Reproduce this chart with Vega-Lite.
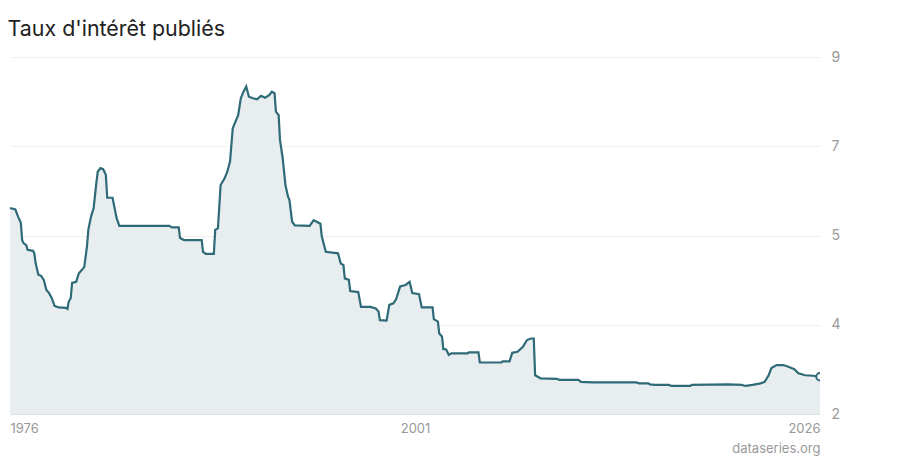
{
  "$schema": "https://vega.github.io/schema/vega-lite/v6.json",
  "autosize": {"type": "none"},
  "width": 810,
  "height": 357,
  "padding": {"left": 10, "top": 57, "right": 80, "bottom": 46},
  "background": "white",
  "config": {"view": {"stroke": null}, "font": "Inter"},
  "title": {"text": "Taux d'intérêt publiés", "anchor": "start", "fontSize": 21.4, "fontWeight": "normal", "color": "#222222", "font": "Inter", "offset": 10, "dx": 2},
  "data": {"values": [
    {"date": "1976-01-01", "v": 6.04}, {"date": "1976-05-01", "v": 6.01}, {"date": "1976-07-01", "v": 5.87},
    {"date": "1976-09-01", "v": 5.75}, {"date": "1976-10-01", "v": 5.41}, {"date": "1976-11-01", "v": 5.35},
    {"date": "1977-01-01", "v": 5.31}, {"date": "1977-02-01", "v": 5.22}, {"date": "1977-06-01", "v": 5.20},
    {"date": "1977-07-01", "v": 5.16}, {"date": "1977-08-01", "v": 4.96}, {"date": "1977-10-01", "v": 4.73},
    {"date": "1977-12-01", "v": 4.71}, {"date": "1978-02-01", "v": 4.63}, {"date": "1978-04-01", "v": 4.43},
    {"date": "1978-06-01", "v": 4.37}, {"date": "1978-08-01", "v": 4.27}, {"date": "1978-10-01", "v": 4.12},
    {"date": "1979-01-01", "v": 4.09}, {"date": "1979-06-15", "v": 4.08}, {"date": "1979-07-20", "v": 4.06},
    {"date": "1979-08-15", "v": 4.20}, {"date": "1979-10-01", "v": 4.27}, {"date": "1979-11-01", "v": 4.57},
    {"date": "1980-02-01", "v": 4.59}, {"date": "1980-04-01", "v": 4.76}, {"date": "1980-06-01", "v": 4.82},
    {"date": "1980-08-01", "v": 4.88}, {"date": "1980-10-01", "v": 5.28}, {"date": "1980-11-01", "v": 5.61},
    {"date": "1981-01-01", "v": 5.87}, {"date": "1981-03-01", "v": 6.04}, {"date": "1981-05-01", "v": 6.53},
    {"date": "1981-06-01", "v": 6.75}, {"date": "1981-08-01", "v": 6.82}, {"date": "1981-10-01", "v": 6.80},
    {"date": "1981-12-01", "v": 6.69}, {"date": "1982-01-01", "v": 6.24}, {"date": "1982-05-01", "v": 6.24},
    {"date": "1982-08-01", "v": 5.84}, {"date": "1982-10-01", "v": 5.69}, {"date": "1985-11-01", "v": 5.69},
    {"date": "1986-01-01", "v": 5.66}, {"date": "1986-06-01", "v": 5.66}, {"date": "1986-07-01", "v": 5.45},
    {"date": "1986-10-01", "v": 5.41}, {"date": "1987-11-01", "v": 5.41}, {"date": "1987-12-01", "v": 5.18},
    {"date": "1988-02-01", "v": 5.14}, {"date": "1988-08-01", "v": 5.14}, {"date": "1988-09-01", "v": 5.61},
    {"date": "1988-11-01", "v": 5.64}, {"date": "1989-01-01", "v": 6.49}, {"date": "1989-04-01", "v": 6.62},
    {"date": "1989-06-01", "v": 6.75}, {"date": "1989-08-01", "v": 6.95}, {"date": "1989-10-01", "v": 7.60},
    {"date": "1989-11-01", "v": 7.67}, {"date": "1990-02-01", "v": 7.86}, {"date": "1990-04-01", "v": 8.19},
    {"date": "1990-06-01", "v": 8.32}, {"date": "1990-08-01", "v": 8.42}, {"date": "1990-10-01", "v": 8.22},
    {"date": "1991-01-01", "v": 8.19}, {"date": "1991-04-01", "v": 8.17}, {"date": "1991-07-01", "v": 8.24},
    {"date": "1991-10-01", "v": 8.20}, {"date": "1992-01-01", "v": 8.25}, {"date": "1992-03-01", "v": 8.32},
    {"date": "1992-05-01", "v": 8.29}, {"date": "1992-06-01", "v": 7.93}, {"date": "1992-08-01", "v": 7.86},
    {"date": "1992-09-01", "v": 7.37}, {"date": "1992-11-01", "v": 7.01}, {"date": "1993-01-01", "v": 6.49},
    {"date": "1993-03-01", "v": 6.26}, {"date": "1993-04-01", "v": 6.20}, {"date": "1993-06-01", "v": 5.77},
    {"date": "1993-08-01", "v": 5.70}, {"date": "1994-07-01", "v": 5.69}, {"date": "1994-10-01", "v": 5.80},
    {"date": "1995-03-01", "v": 5.73}, {"date": "1995-04-01", "v": 5.48}, {"date": "1995-07-01", "v": 5.18},
    {"date": "1996-04-01", "v": 5.15}, {"date": "1996-06-01", "v": 4.95}, {"date": "1996-08-01", "v": 4.92},
    {"date": "1996-09-01", "v": 4.66}, {"date": "1996-12-01", "v": 4.63}, {"date": "1997-01-01", "v": 4.41},
    {"date": "1997-07-01", "v": 4.39}, {"date": "1997-09-01", "v": 4.10}, {"date": "1998-04-01", "v": 4.10},
    {"date": "1998-08-01", "v": 4.07}, {"date": "1998-10-01", "v": 4.01}, {"date": "1998-11-01", "v": 3.84},
    {"date": "1999-04-01", "v": 3.83}, {"date": "1999-06-01", "v": 4.14}, {"date": "1999-09-01", "v": 4.17},
    {"date": "1999-11-01", "v": 4.25}, {"date": "2000-02-01", "v": 4.50}, {"date": "2000-06-01", "v": 4.53},
    {"date": "2000-09-01", "v": 4.59}, {"date": "2000-11-01", "v": 4.37}, {"date": "2001-04-01", "v": 4.35},
    {"date": "2001-06-01", "v": 4.09}, {"date": "2002-02-01", "v": 4.09}, {"date": "2002-03-01", "v": 3.86},
    {"date": "2002-06-01", "v": 3.81}, {"date": "2002-07-01", "v": 3.58}, {"date": "2002-09-01", "v": 3.52},
    {"date": "2002-10-01", "v": 3.27}, {"date": "2002-12-01", "v": 3.27}, {"date": "2003-02-01", "v": 3.16},
    {"date": "2003-04-01", "v": 3.19}, {"date": "2004-04-01", "v": 3.19}, {"date": "2004-05-01", "v": 3.21},
    {"date": "2004-12-01", "v": 3.21}, {"date": "2005-01-01", "v": 3.01}, {"date": "2006-05-01", "v": 3.01},
    {"date": "2006-06-01", "v": 3.03}, {"date": "2006-11-01", "v": 3.03}, {"date": "2007-01-01", "v": 3.20},
    {"date": "2007-05-01", "v": 3.22}, {"date": "2007-09-01", "v": 3.32}, {"date": "2007-12-01", "v": 3.45},
    {"date": "2008-03-01", "v": 3.48}, {"date": "2008-05-01", "v": 3.48}, {"date": "2008-06-01", "v": 2.76},
    {"date": "2008-10-01", "v": 2.70}, {"date": "2009-10-01", "v": 2.69}, {"date": "2009-12-01", "v": 2.67},
    {"date": "2011-02-01", "v": 2.67}, {"date": "2011-04-01", "v": 2.63}, {"date": "2012-01-01", "v": 2.62},
    {"date": "2014-09-01", "v": 2.62}, {"date": "2014-11-01", "v": 2.60}, {"date": "2015-06-01", "v": 2.60},
    {"date": "2015-07-01", "v": 2.58}, {"date": "2015-11-01", "v": 2.57}, {"date": "2016-09-01", "v": 2.57},
    {"date": "2016-11-01", "v": 2.55}, {"date": "2018-01-01", "v": 2.55}, {"date": "2018-02-01", "v": 2.57},
    {"date": "2020-05-01", "v": 2.58}, {"date": "2021-03-01", "v": 2.57}, {"date": "2021-06-01", "v": 2.55},
    {"date": "2021-11-01", "v": 2.57}, {"date": "2022-05-01", "v": 2.60}, {"date": "2022-08-01", "v": 2.63},
    {"date": "2022-11-01", "v": 2.76}, {"date": "2023-01-01", "v": 2.90}, {"date": "2023-05-01", "v": 2.96},
    {"date": "2023-10-01", "v": 2.96}, {"date": "2024-02-01", "v": 2.92}, {"date": "2024-06-01", "v": 2.88},
    {"date": "2024-09-01", "v": 2.80}, {"date": "2025-02-01", "v": 2.76}, {"date": "2025-08-01", "v": 2.75},
    {"date": "2026-01-01", "v": 2.73}
  ]},
  "encoding": {
    "x": {
      "field": "date", "type": "temporal",
      "scale": {"type": "utc", "domain": [{"year": 1976, "month": 1, "date": 1, "utc": true}, {"year": 2026, "month": 1, "date": 1, "utc": true}], "nice": false},
      "axis": {
        "values": [{"year": 1976, "month": 1, "date": 1, "utc": true}, {"year": 2001, "month": 1, "date": 1, "utc": true}, {"year": 2026, "month": 1, "date": 1, "utc": true}],
        "format": "%Y", "formatType": "utc", "labelFlush": true, "grid": false, "ticks": false,
        "domain": true, "domainColor": "#e2e2e2", "domainWidth": 1,
        "labelColor": "#999999", "labelFontSize": 13, "labelPadding": 8, "labelFont": "Inter",
        "title": "dataseries.org", "titleAnchor": "end", "titleColor": "#999999", "titleFontSize": 13,
        "titleFontWeight": "normal", "titleFont": "Inter", "titlePadding": 7
      }
    },
    "y": {
      "field": "v", "type": "quantitative",
      "scale": {"domain": [2, 9], "zero": false, "nice": false},
      "axis": {
        "orient": "right", "values": [2, 3.75, 5.5, 7.25, 9],
        "labelExpr": "datum.value == 3.75 ? '4' : datum.value == 5.5 ? '5' : datum.value == 7.25 ? '7' : datum.label",
        "grid": true, "gridColor": "#f0f0f0", "gridWidth": 1, "domain": false, "ticks": false,
        "labelColor": "#999999", "labelFontSize": 14, "labelPadding": 11, "labelFont": "Inter", "title": null
      }
    }
  },
  "layer": [
    {"mark": {"type": "area", "color": "#e8eef0", "opacity": 1}, "encoding": {"y2": {"datum": 2}}},
    {"mark": {"type": "line", "color": "#2e6a77", "strokeWidth": 2.2}},
    {
      "transform": [{"filter": "utcyear(datum.date) == 2026"}],
      "mark": {"type": "point", "filled": true, "fill": "#ffffff", "stroke": "#2e6a77", "strokeWidth": 2, "size": 55, "opacity": 1, "clip": true}
    }
  ]
}
